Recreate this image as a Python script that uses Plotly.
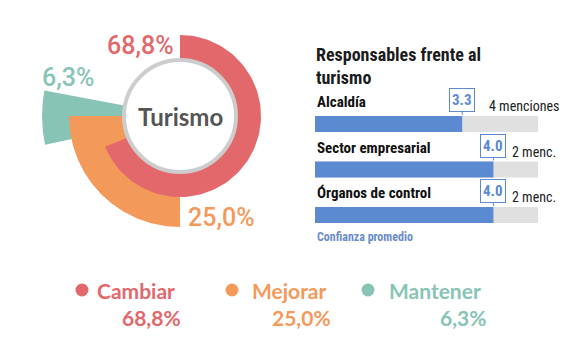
import numpy as np
import plotly.graph_objects as go

W, H = 577, 344

# ---- data ----
categories = ["Cambiar", "Mejorar", "Mantener"]
percentages = [68.8, 25.0, 6.3]
pct_labels = ["68,8%", "25,0%", "6,3%"]
center_label = "Turismo"

resp_title = ["Responsables frente al", "turismo"]
resp_names = ["Alcaldía", "Sector empresarial", "Órganos de control"]
resp_conf = [3.3, 4.0, 4.0]
resp_mentions = ["4 menciones", "2 menc.", "2 menc."]
conf_max = 5
conf_note = "Confianza promedio"

# ---- styles ----
colors = ["#e2686b", "#f3995a", "#88c4b5"]
start_angles = [0, 180, 258]       # start of each sector (deg, clockwise from top)
inner_r = [57, 50, 50]
outer_r = [81, 111, 138]
draw_order = [2, 1, 0]
blue = "#5b8ad0"
gray = "#e0e0e0"

def px(x):
    return x / W

def py(y):
    return 1 - y / H

cx, cy = 180, 116

fig = go.Figure()

# donut-like sectors drawn on an equal-scale cartesian frame centred on the donut
for i in draw_order:
    span = percentages[i] * 3.6
    a = np.radians(np.linspace(start_angles[i], start_angles[i] + span, 120))
    xs = np.concatenate([outer_r[i] * np.sin(a), inner_r[i] * np.sin(a[::-1])])
    ys = np.concatenate([outer_r[i] * np.cos(a), inner_r[i] * np.cos(a[::-1])])
    fig.add_trace(go.Scatter(x=xs, y=ys, fill="toself", mode="lines",
                             fillcolor=colors[i], line=dict(width=0, color=colors[i]),
                             hoverinfo="skip", showlegend=False, xaxis="x2", yaxis="y2"))

fig.update_layout(
    xaxis2=dict(domain=[0, 1], range=[-cx, W - cx], visible=False, fixedrange=True, anchor="y2"),
    yaxis2=dict(domain=[0, 1], range=[-(H - cy), cy], visible=False, fixedrange=True, anchor="x2"),
)

# center circle
rc = 56
fig.add_shape(type="circle", xref="x2", yref="y2", x0=-rc, x1=rc, y0=-rc, y1=rc,
              fillcolor="white", line=dict(color="#cdcdcd", width=4), layer="above")
fig.add_annotation(x=0, y=0, xref="x2", yref="y2", text="<b>" + center_label + "</b>",
                   showarrow=False, font=dict(family="Lato", size=24, color="#555555"))

# percentage labels around the donut
pct_pos = [(176, 45, "right"), (186, 217, "left"), (96, 78, "right")]
for i, (x, y, anc) in enumerate(pct_pos):
    fig.add_annotation(x=px(x), y=py(y), xref="paper", yref="paper", text=pct_labels[i],
                       xanchor=anc, yanchor="middle", showarrow=False,
                       font=dict(family="Roboto", size=25, weight=500, color=colors[i]))

# ---- right panel bars ----
ypos = list(range(len(resp_names)))
fig.add_trace(go.Bar(y=ypos, x=[conf_max] * len(ypos), orientation="h", width=0.35,
                     marker=dict(color=gray, line=dict(width=0)), hoverinfo="skip",
                     showlegend=False, xaxis="x", yaxis="y"))
fig.add_trace(go.Bar(y=ypos, x=resp_conf, orientation="h", width=0.35,
                     marker=dict(color=blue, line=dict(width=0)), hoverinfo="skip",
                     showlegend=False, xaxis="x", yaxis="y"))

x0p, x1p = 315, 538
ytop, ybot = 101.25, 237.75
fig.update_layout(
    barmode="overlay",
    xaxis=dict(domain=[px(x0p), px(x1p)], range=[0, conf_max], visible=False, fixedrange=True),
    yaxis=dict(domain=[py(ybot), py(ytop)], range=[2.5, -0.5], visible=False, fixedrange=True),
)

cond = "Roboto Condensed, Liberation Sans Narrow, Roboto"
fig.add_annotation(x=px(x0p - 1), y=py(42), xref="paper", yref="paper",
                   text="<b>" + "<br>".join(resp_title) + "</b>", xanchor="left", yanchor="top",
                   align="left", showarrow=False,
                   font=dict(family=cond, size=18, color="#1b1b1b"))

mention_shift = [25, 17, 17]
for i, name in enumerate(resp_names):
    fig.add_annotation(x=0, y=i, xref="x", yref="y", text="<b>" + name + "</b>",
                       xanchor="left", yanchor="middle", yshift=22, showarrow=False,
                       font=dict(family=cond, size=15, color="#111111"))
    fig.add_annotation(x=resp_conf[i], y=i, xref="x", yref="y", text="<b>%.1f</b>" % resp_conf[i],
                       showarrow=True, arrowhead=0, arrowwidth=1, arrowcolor=blue,
                       ax=0, ay=-15, yshift=9, bgcolor="white", bordercolor=blue,
                       borderwidth=1, borderpad=2,
                       font=dict(family=cond, size=15, color=blue))
    fig.add_annotation(x=resp_conf[i], y=i, xref="x", yref="y", text=resp_mentions[i],
                       xanchor="left", yanchor="middle", yshift=18, xshift=mention_shift[i],
                       showarrow=False, font=dict(family=cond, size=14, color="#222222"))

fig.add_annotation(x=px(x0p), y=py(237), xref="paper", yref="paper", text="<b>" + conf_note + "</b>",
                   xanchor="left", yanchor="middle", showarrow=False,
                   font=dict(family=cond, size=12, color="#6a8cc8"))

# ---- bottom legend ----
leg_circle_x = [82, 232, 368]
leg_text_x = [95, 250, 387]
leg_val_right = [183, 333, 488]
for i, cat in enumerate(categories):
    r = 6.5
    fig.add_shape(type="circle", xref="paper", yref="paper",
                  x0=px(leg_circle_x[i] - r), x1=px(leg_circle_x[i] + r),
                  y0=py(290 + r), y1=py(290 - r), fillcolor=colors[i], line=dict(width=0))
    fig.add_annotation(x=px(leg_text_x[i]), y=py(290), xref="paper", yref="paper",
                       text="<b>" + cat + "</b>",
                       xanchor="left", yanchor="middle", showarrow=False,
                       font=dict(family="Lato", size=21, color=colors[i]))
    fig.add_annotation(x=px(leg_val_right[i]), y=py(317), xref="paper", yref="paper",
                       text="<b>" + pct_labels[i] + "</b>",
                       xanchor="right", yanchor="middle", showarrow=False,
                       font=dict(family="Lato", size=21, color=colors[i]))

fig.update_layout(width=W, height=H, margin=dict(l=0, r=0, t=0, b=0),
                  paper_bgcolor="white", plot_bgcolor="rgba(0,0,0,0)", showlegend=False)

fig.write_html("out.html")
